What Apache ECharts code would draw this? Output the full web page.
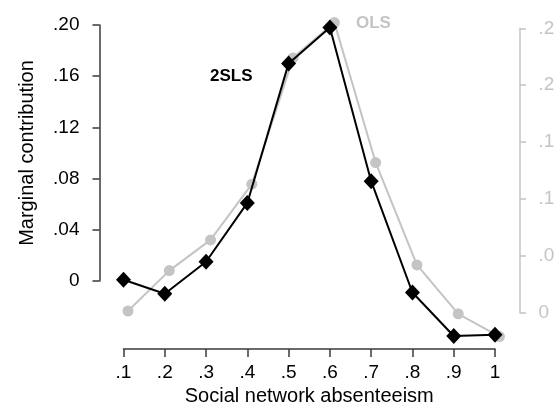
<!DOCTYPE html>
<html>
<head>
<meta charset="utf-8">
<script src="https://cdn.jsdelivr.net/npm/echarts@6/dist/echarts.min.js"></script>
<style>
  html, body { margin: 0; padding: 0; background: #fff; }
  #chart { width: 555px; height: 404px; }
</style>
</head>
<body>
<div id="chart"></div>
<script>
// Social network absenteeism deciles
const absenteeism = [0.1, 0.2, 0.3, 0.4, 0.5, 0.6, 0.7, 0.8, 0.9, 1.0];
// Marginal contribution, 2SLS estimates (left axis)
const tsls = [0.001, -0.010, 0.015, 0.061, 0.170, 0.198, 0.078, -0.009, -0.043, -0.042];
// Marginal contribution, OLS estimates (right axis)
const ols = [0.0015, 0.037, 0.064, 0.113, 0.224, 0.255, 0.132, 0.042, -0.001, -0.021];

const xTickLabels = ['.1', '.2', '.3', '.4', '.5', '.6', '.7', '.8', '.9', '1'];
const leftTickLabels = ['0', '.04', '.08', '.12', '.16', '.20'];
const rightTickLabels = ['0', '.05', '.10', '.15', '.20', '.25'];

const FONT = '"Liberation Sans", Arial, Helvetica, sans-serif';
const AXIS_DARK = '#3a3a3a';
const GREY = '#c4c4c4';

const chart = echarts.init(document.getElementById('chart'), null, { renderer: 'canvas' });

chart.setOption({
  backgroundColor: '#fff',
  animation: false,
  textStyle: { fontFamily: FONT },
  grid: [
    // 2SLS panel
    { left: 123.5, right: 60, top: 25, bottom: 123, outerBoundsMode: 'none', containLabel: false },
    // OLS panel, drawn against the right-hand scale
    { left: 128, right: 55.5, top: 28.3, bottom: 91.3, outerBoundsMode: 'none', containLabel: false }
  ],
  xAxis: [
    {
      gridIndex: 0, type: 'value', min: 0.1, max: 1, interval: 0.1,
      offset: 68,
      name: 'Social network absenteeism', nameLocation: 'middle', nameGap: 31,
      nameTextStyle: { fontSize: 20, color: '#000', fontFamily: FONT },
      axisLine: { show: true, onZero: false, lineStyle: { color: AXIS_DARK, width: 1.5 } },
      axisTick: { show: true, length: 8, lineStyle: { color: AXIS_DARK, width: 1.5 } },
      axisLabel: {
        fontSize: 19, color: '#000', margin: 14, fontFamily: FONT,
        formatter: (v, i) => xTickLabels[i]
      },
      splitLine: { show: false }
    },
    {
      gridIndex: 1, type: 'value', min: 0.1, max: 1, interval: 0.1, show: false
    }
  ],
  yAxis: [
    {
      gridIndex: 0, type: 'value', position: 'left', min: 0, max: 0.2, interval: 0.04,
      offset: 24,
      name: 'Marginal contribution', nameLocation: 'middle', nameGap: 62,
      nameTextStyle: { fontSize: 20, color: '#000', fontFamily: FONT },
      axisLine: { show: true, onZero: false, lineStyle: { color: AXIS_DARK, width: 1.5 } },
      axisTick: { show: true, length: 7, lineStyle: { color: AXIS_DARK, width: 1.5 } },
      axisLabel: {
        fontSize: 19, color: '#000', margin: 20, fontFamily: FONT,
        formatter: (v, i) => leftTickLabels[i]
      },
      splitLine: { show: false }
    },
    {
      gridIndex: 1, type: 'value', position: 'right', min: 0, max: 0.25, interval: 0.05,
      offset: 20.5,
      axisLine: { show: true, onZero: false, lineStyle: { color: GREY, width: 1.5 } },
      axisTick: { show: true, length: 6, lineStyle: { color: GREY, width: 1.5 } },
      axisLabel: {
        fontSize: 19, color: GREY, margin: 18.5, fontFamily: FONT,
        formatter: (v, i) => rightTickLabels[i]
      },
      splitLine: { show: false }
    }
  ],
  series: [
    {
      name: 'OLS', type: 'line', xAxisIndex: 1, yAxisIndex: 1, clip: false, z: 2,
      data: absenteeism.map((x, i) => [x, ols[i]]),
      symbol: 'circle', symbolSize: 11,
      lineStyle: { color: GREY, width: 2 },
      itemStyle: { color: GREY, borderWidth: 0 }
    },
    {
      name: '2SLS', type: 'line', xAxisIndex: 0, yAxisIndex: 0, clip: false, z: 3,
      data: absenteeism.map((x, i) => [x, tsls[i]]),
      symbol: 'diamond', symbolSize: [15, 16],
      lineStyle: { color: '#000', width: 2 },
      itemStyle: { color: '#000', borderWidth: 0 }
    }
  ],
  graphic: [
    { type: 'text', left: 210, top: 68, style: { text: '2SLS', font: '700 17px ' + FONT, fill: '#000' } },
    { type: 'text', left: 356, top: 15, style: { text: 'OLS', font: '700 17px ' + FONT, fill: GREY } }
  ]
});
</script>
</body>
</html>
